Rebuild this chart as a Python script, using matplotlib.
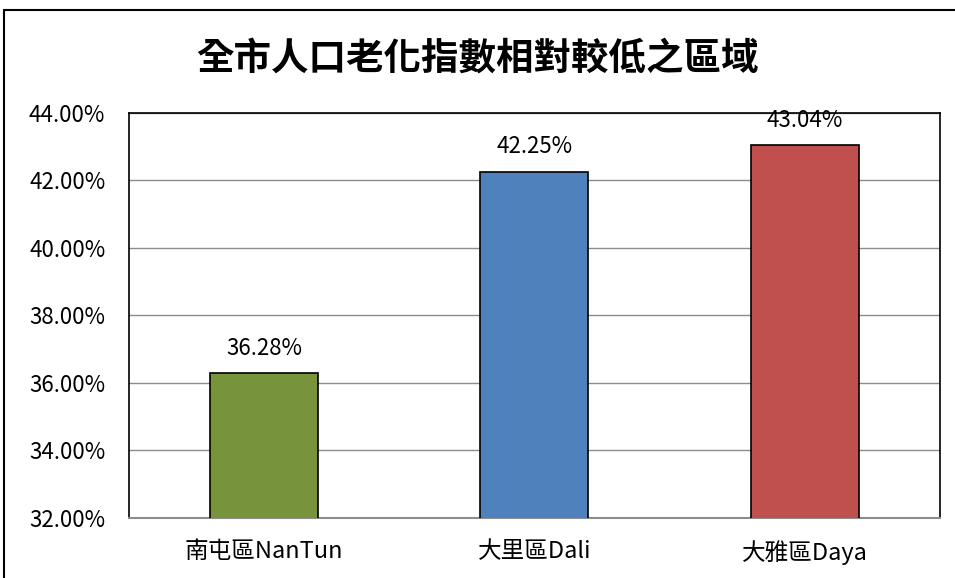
import matplotlib.pyplot as plt
from matplotlib.patches import Rectangle

plt.rcParams['font.family'] = ['Noto Sans CJK TC', 'DejaVu Sans']

districts = ['南屯區NanTun', '大里區Dali', '大雅區Daya']
aging_index = [36.28, 42.25, 43.04]
bar_colors = ['#77933C', '#4F81BD', '#C0504D']
yticks = [32, 34, 36, 38, 40, 42, 44]

fig = plt.figure(figsize=(9.55, 5.78), dpi=100)
ax = fig.add_axes([0.135, 0.104, 0.849, 0.7005])

x = range(len(districts))
ax.bar(x, aging_index, width=0.4, color=bar_colors, edgecolor='black',
       linewidth=1.2, zorder=3)

for i, v in zip(x, aging_index):
    ax.annotate(f'{v:.2f}%', (i, v), xytext=(0, 10), textcoords='offset points',
                ha='center', va='bottom', fontsize=16)

ax.set_xlim(-0.5, 2.5)
ax.set_ylim(32, 44)
ax.set_yticks(yticks)
ax.set_yticklabels([f'{t:.2f}%' for t in yticks], fontsize=16)
ax.set_xticks(list(x))
ax.set_xticklabels(districts, fontsize=17)
ax.tick_params(axis='both', length=0)
ax.tick_params(axis='y', pad=17)
ax.tick_params(axis='x', pad=16)
ax.yaxis.grid(True, color='#8c8c8c', linewidth=1, zorder=0)

for side in ['top', 'left', 'right']:
    ax.spines[side].set_color('black')
    ax.spines[side].set_linewidth(1.2)
ax.spines['bottom'].set_color('#8c8c8c')
ax.spines['bottom'].set_linewidth(1.5)

fig.text(0.5, 0.9, '全市人口老化指數相對較低之區域', ha='center', va='center',
         fontsize=27, fontweight='bold')

fig.patches.append(Rectangle((4 / 955, -0.05), 1.1, 1 - 10 / 578 + 0.05,
                             transform=fig.transFigure, fill=False,
                             edgecolor='black', linewidth=1.5))

fig.savefig('out.png', dpi=100)
